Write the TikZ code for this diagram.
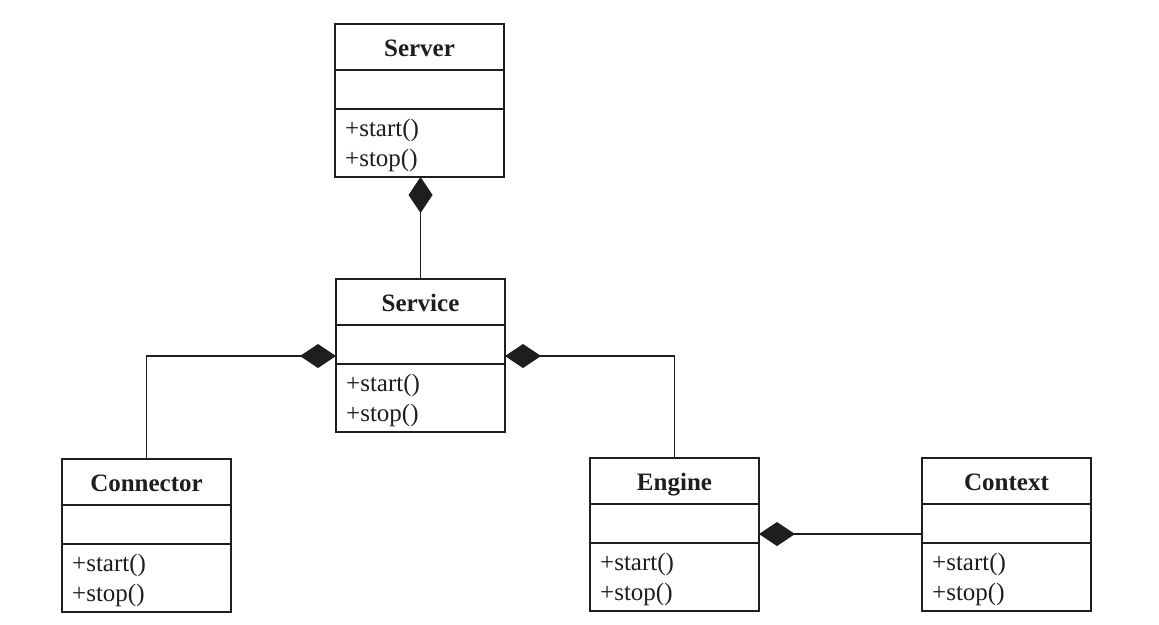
\documentclass[tikz,border=0pt]{standalone}
\usepackage{fontspec}
\setmainfont{Liberation Serif}
\usetikzlibrary{arrows.meta}

\definecolor{ink}{HTML}{1E1E1E}

\tikzset{
  classbox/.style={draw=ink, line width=1.7pt, anchor=north west,
    minimum width=169pt, minimum height=153pt, inner sep=0pt, outer sep=0pt},
  divider/.style={draw=ink, line width=1.7pt},
  classname/.style={anchor=base, inner sep=0pt, text=ink,
    font=\fontsize{25}{30}\selectfont\bfseries},
  method/.style={anchor=base west, inner sep=0pt, text=ink,
    font=\fontsize{25}{30}\selectfont},
  composition/.style={draw=ink, line width=1.2pt,
    -{Diamond[length=36pt, width=24pt, fill=ink]}},
}

% A class box with name, empty attribute part and two operations
\newcommand{\umlclass}[4]{%
  \node[classbox] (#1) at (#2,#3) {};
  \draw[divider] ([yshift=-46pt]#1.north west) -- ([yshift=-46pt]#1.north east);
  \draw[divider] ([yshift=-85pt]#1.north west) -- ([yshift=-85pt]#1.north east);
  \node[classname] (#1-name) at ([yshift=-32pt]#1.north) {#4};
  \node[method] (#1-start) at ([xshift=10pt,yshift=-112pt]#1.north west) {+start()};
  \node[method] (#1-stop) at ([xshift=10pt,yshift=-142pt]#1.north west) {+stop()};
}

\begin{document}
\begin{tikzpicture}[x=1pt, y=-1pt]
  \useasboundingbox[fill=white] (0,0) rectangle (1159,624);

  \umlclass{server}{335}{24}{Server}
  \umlclass{service}{336}{279}{Service}
  \umlclass{connector}{62}{459}{Connector}
  \umlclass{engine}{590}{458}{Engine}
  \umlclass{context}{922}{458}{Context}

  % attachment points on the whole side of each aggregate
  \coordinate (service-left)  at ([yshift=-77pt]service.north west);
  \coordinate (service-right) at ([yshift=-77pt]service.north east);
  \coordinate (engine-right)  at ([yshift=-76pt]engine.north east);

  % compositions
  \draw[composition] (service.north) -- (service.north |- server.south);
  \draw[composition] (connector.north) |- (service-left);
  \draw[composition] (engine.north) |- (service-right);
  \draw[composition] (context.west |- engine-right) -- (engine-right);
\end{tikzpicture}
\end{document}
